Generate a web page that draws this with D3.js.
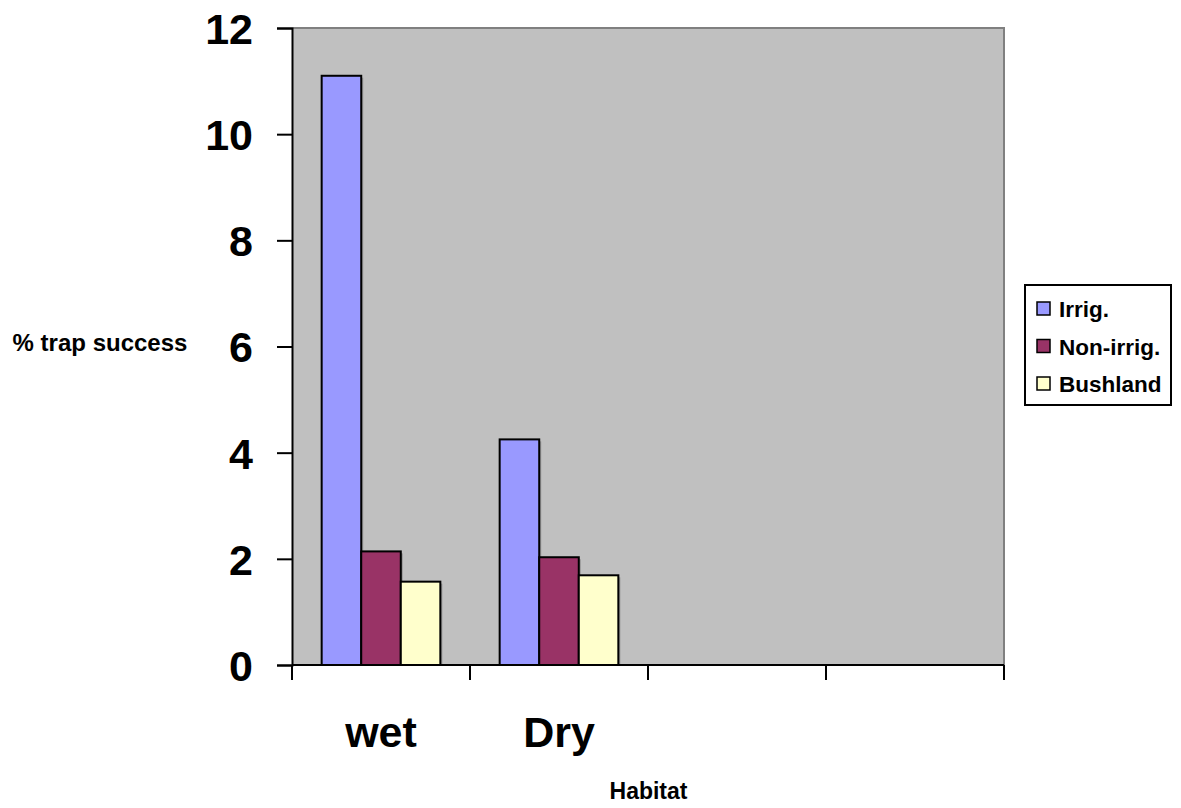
<!DOCTYPE html>
<html><head><meta charset="utf-8">
<script src="https://cdn.jsdelivr.net/npm/d3@7"></script>
<style>
html,body{margin:0;padding:0;background:#fff;}
svg{display:block;font-family:"Liberation Sans",Arial,sans-serif;font-weight:bold;}
</style></head>
<body>
<svg id="chart" width="1181" height="808"></svg>
<script>
const categories = ["wet", "Dry", "", " "];
const seriesNames = ["Irrig.", "Non-irrig.", "Bushland"];
const irrig = [11.1, 4.25, null, null];
const nonIrrig = [2.14, 2.03, null, null];
const bushland = [1.57, 1.69, null, null];
const yTicks = [0, 2, 4, 6, 8, 10, 12];
const colors = ["#9999FF", "#993366", "#FFFFCC"];
const seriesValues = [irrig, nonIrrig, bushland];

const svg = d3.select("#chart");
const L = 292, R = 1004, T = 28, B = 665;

const x = d3.scaleBand().domain(categories).range([L, R]).paddingInner(0).paddingOuter(0);
const x1 = d3.scaleBand().domain(seriesNames).range([0, x.bandwidth()]).paddingInner(0).paddingOuter(0.75);
const y = d3.scaleLinear().domain([0, 12]).range([B, T]);

// plot background
svg.append("rect").attr("x", L).attr("y", T).attr("width", R - L).attr("height", B - T).attr("fill", "#C0C0C0");
// top/right grey border
svg.append("path").attr("d", `M${L},${T}H${R}V${B}`).attr("fill", "none").attr("stroke", "#808080").attr("stroke-width", 2);

// bars
const g = svg.append("g");
seriesNames.forEach((s, si) => {
  categories.forEach((c, ci) => {
    const v = seriesValues[si][ci];
    if (v == null) return;
    const bx = x(c) + x1(s), bw = x1.bandwidth();
    g.append("rect").attr("x", bx + 2).attr("y", y(v) + 2).attr("width", bw).attr("height", y(0) - y(v) - 2)
      .attr("fill", "#7a7a7a").attr("opacity", 0.6);
  });
});
seriesNames.forEach((s, si) => {
  categories.forEach((c, ci) => {
    const v = seriesValues[si][ci];
    if (v == null) return;
    g.append("rect").attr("x", x(c) + x1(s)).attr("y", y(v)).attr("width", x1.bandwidth()).attr("height", y(0) - y(v))
      .attr("fill", colors[si]).attr("stroke", "#000").attr("stroke-width", 2);
  });
});

// y axis
const yAxis = svg.append("g").attr("transform", `translate(${L},0)`)
  .call(d3.axisLeft(y).tickValues(yTicks).tickSize(15).tickPadding(24).tickFormat(d3.format("d")));
yAxis.select(".domain").attr("stroke", "#000").attr("stroke-width", 2);
yAxis.selectAll(".tick line").attr("stroke", "#000").attr("stroke-width", 2);
yAxis.selectAll(".tick text").attr("font-size", 43).attr("font-weight", "bold").attr("fill", "#000")
  .attr("font-family", "Liberation Sans, Arial, sans-serif").attr("dy", "0.36em");

// x axis
const xAxis = svg.append("g").attr("transform", `translate(0,${B})`)
  .call(d3.axisBottom(x).tickSize(0).tickPadding(0));
xAxis.select(".domain").remove();
svg.append("line").attr("x1", L).attr("x2", R).attr("y1", B).attr("y2", B).attr("stroke", "#000").attr("stroke-width", 2);
const tickXs = categories.map(c => x(c)).concat([R]);
svg.selectAll(".xt").data(tickXs).enter().append("line")
  .attr("x1", d => d).attr("x2", d => d).attr("y1", B).attr("y2", B + 15)
  .attr("stroke", "#000").attr("stroke-width", 2);
xAxis.selectAll(".tick text").attr("font-size", 43).attr("font-weight", "bold").attr("fill", "#000")
  .attr("font-family", "Liberation Sans, Arial, sans-serif").attr("y", 82).attr("dy", 0);

// axis titles
svg.append("text").attr("x", 100).attr("y", 351).attr("text-anchor", "middle").attr("font-size", 24).text("% trap success");
svg.append("text").attr("x", 648.5).attr("y", 799).attr("text-anchor", "middle").attr("font-size", 23).text("Habitat");

// legend
const lg = svg.append("g");
lg.append("rect").attr("x", 1025).attr("y", 285).attr("width", 146).attr("height", 120)
  .attr("fill", "#fff").attr("stroke", "#000").attr("stroke-width", 2);
seriesNames.forEach((s, i) => {
  const by = 317 + i * 37.5;
  lg.append("rect").attr("x", 1037).attr("y", by - 15).attr("width", 13).attr("height", 13)
    .attr("fill", colors[i]).attr("stroke", "#000").attr("stroke-width", 1.5);
  lg.append("text").attr("x", 1059).attr("y", by).attr("font-size", 22.5).text(s);
});
</script>
</body></html>
